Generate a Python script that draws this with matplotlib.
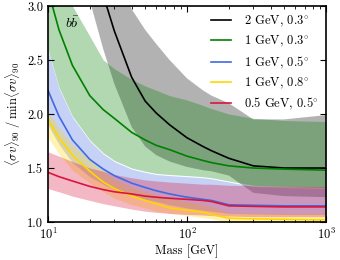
import numpy as np
import matplotlib
matplotlib.use("Agg")
import matplotlib.pyplot as plt

plt.rcParams['font.family'] = 'serif'
plt.rcParams['font.serif'] = ['cmr10', 'DejaVu Serif']
plt.rcParams['mathtext.fontset'] = 'cm'
plt.rcParams['axes.formatter.use_mathtext'] = True
plt.rcParams['font.size'] = 9

# ---- data (mass in GeV) ----
mass = [10, 12, 15, 20, 25, 30, 40, 50, 60, 75, 100, 130, 150, 200, 300, 500, 1000]

# 2 GeV, 0.3 deg (black)
black_line = [5.5, 5.0, 4.4, 3.6, 3.1, 2.77, 2.34, 2.12, 2.01, 1.90, 1.78, 1.70, 1.66, 1.59, 1.52, 1.50, 1.50]
black_up = [6.5, 6.0, 5.3, 4.6, 3.9, 3.5, 2.97, 2.78, 2.65, 2.5, 2.33, 2.22, 2.17, 2.1, 1.95, 1.95, 1.99]
black_lo = [4.2, 3.9, 3.5, 3.05, 2.6, 2.28, 1.88, 1.70, 1.62, 1.56, 1.51, 1.48, 1.47, 1.43, 1.27, 1.24, 1.23]

# 1 GeV, 0.3 deg (green)
green_line = [3.15, 2.78, 2.45, 2.17, 2.04, 1.96, 1.83, 1.76, 1.71, 1.67, 1.61, 1.57, 1.55, 1.52, 1.50, 1.49, 1.48]
green_up = [3.6, 3.3, 3.0, 2.72, 2.5, 2.42, 2.32, 2.26, 2.22, 2.17, 2.13, 2.08, 2.05, 2.0, 1.96, 1.94, 1.93]
green_lo = [2.6, 2.25, 1.98, 1.76, 1.64, 1.57, 1.5, 1.47, 1.45, 1.44, 1.43, 1.42, 1.41, 1.38, 1.34, 1.33, 1.32]

# 1 GeV, 0.5 deg (blue)
blue_line = [2.22, 1.98, 1.76, 1.58, 1.49, 1.43, 1.36, 1.32, 1.29, 1.26, 1.23, 1.21, 1.20, 1.16, 1.155, 1.15, 1.15]
blue_up = [2.59, 2.24, 1.97, 1.75, 1.63, 1.56, 1.49, 1.46, 1.44, 1.43, 1.42, 1.41, 1.40, 1.37, 1.33, 1.32, 1.31]
blue_lo = [1.9, 1.72, 1.55, 1.42, 1.35, 1.3, 1.25, 1.21, 1.19, 1.16, 1.13, 1.11, 1.1, 1.08, 1.075, 1.07, 1.07]

# 1 GeV, 0.8 deg (yellow)
yellow_line = [1.95, 1.78, 1.62, 1.47, 1.37, 1.31, 1.24, 1.2, 1.17, 1.13, 1.11, 1.09, 1.07, 1.035, 1.03, 1.025, 1.02]
yellow_up = [2.02, 1.87, 1.72, 1.57, 1.47, 1.40, 1.32, 1.28, 1.25, 1.22, 1.19, 1.16, 1.14, 1.09, 1.085, 1.08, 1.08]
yellow_lo = [1.78, 1.63, 1.48, 1.36, 1.28, 1.22, 1.16, 1.13, 1.10, 1.08, 1.06, 1.04, 1.03, 1.0, 1.0, 1.0, 1.0]

# 0.5 GeV, 0.5 deg (red)
red_line = [1.46, 1.42, 1.38, 1.33, 1.30, 1.28, 1.26, 1.24, 1.23, 1.22, 1.21, 1.2, 1.19, 1.15, 1.145, 1.14, 1.14]
red_up = [1.65, 1.61, 1.56, 1.5, 1.47, 1.44, 1.41, 1.39, 1.38, 1.37, 1.36, 1.35, 1.35, 1.34, 1.335, 1.33, 1.33]
red_lo = [1.31, 1.28, 1.24, 1.2, 1.17, 1.15, 1.12, 1.1, 1.09, 1.08, 1.07, 1.065, 1.06, 1.055, 1.05, 1.05, 1.05]

labels = ['2 GeV, $0.3^{\\circ}$', '1 GeV, $0.3^{\\circ}$', '1 GeV, $0.5^{\\circ}$',
          '1 GeV, $0.8^{\\circ}$', '0.5 GeV, $0.5^{\\circ}$']
colors = ['black', '#008000', '#4169E1', '#FFD700', '#DC143C']

series = [(black_line, black_up, black_lo), (green_line, green_up, green_lo),
          (blue_line, blue_up, blue_lo), (yellow_line, yellow_up, yellow_lo),
          (red_line, red_up, red_lo)]

fig = plt.figure(figsize=(3.4, 2.6), dpi=100)
ax = fig.add_axes([0.141, 0.146, 0.818, 0.831])

for (ln, up, lo), c in zip(series, colors):
    ax.fill_between(mass, lo, up, color=c, alpha=0.3, linewidth=0)
for (ln, up, lo), c, lab in zip(series, colors, labels):
    ax.plot(mass, ln, color=c, lw=1.2, label=lab)

ax.set_xscale('log')
ax.set_xlim(10, 1000)
ax.set_ylim(1.0, 3.0)
ax.set_yticks([1.0, 1.5, 2.0, 2.5, 3.0])
ax.set_yticklabels(['1.0', '1.5', '2.0', '2.5', '3.0'])
ax.tick_params(which='both', direction='in', top=True, right=True)
ax.tick_params(which='major', length=4, width=0.8)
ax.tick_params(which='minor', length=2, width=0.6)
for s in ax.spines.values():
    s.set_linewidth(1.2)

ax.set_xlabel('Mass [GeV]', labelpad=2)
ax.set_ylabel(r'$\langle\sigma v\rangle_{90}\;/\;\min\langle\sigma v\rangle_{90}$', labelpad=3)
ax.text(0.06, 0.955, r'$b\bar{b}$', transform=ax.transAxes, fontsize=10, va='top')
ax.legend(loc='upper right', frameon=False, fontsize=9, handlelength=1.6,
          handletextpad=1.0, labelspacing=0.42, borderaxespad=0.2)

fig.savefig('out.png', dpi=100)
